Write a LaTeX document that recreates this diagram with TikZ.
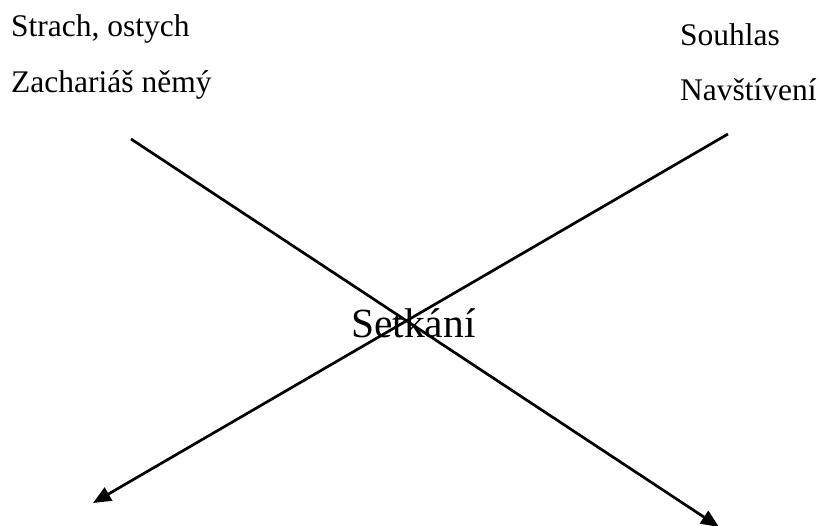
\documentclass[tikz,border=0pt]{standalone}
\usepackage{fontspec}
\setmainfont{Liberation Serif}
\usepackage{tikz}
\usetikzlibrary{arrows.meta}
\pgfdeclarelayer{edgelayer}
\pgfdeclarelayer{nodelayer}
\pgfsetlayers{edgelayer,nodelayer,main}
\tikzstyle{none} = []
\tikzstyle{side word} = [anchor=base west, inner sep=0pt, font=\fontsize{31.5pt}{36pt}\selectfont]
\tikzstyle{middle word} = [anchor=base west, inner sep=0pt, font=\fontsize{41.5pt}{48pt}\selectfont]
\tikzstyle{pointer} = [line width=2.7pt, -{Triangle[length=18pt,width=15pt]}]

\begin{document}
\begin{tikzpicture}[x=1pt, y=-1pt]
	\useasboundingbox (0, 0) rectangle (821, 526);
	\begin{pgfonlayer}{nodelayer}
		\node [style=none] (0) at (131, 139) {};
		\node [style=none] (1) at (719, 527) {};
		\node [style=none] (2) at (728, 134) {};
		\node [style=none] (3) at (93, 503) {};
		\node [style=side word] (4) at (11, 37) {Strach, ostych};
		\node [style=side word] (5) at (11, 93) {Zachariáš němý};
		\node [style=side word] (6) at (680, 46) {Souhlas};
		\node [style=side word] (7) at (680, 101) {Navštívení};
		\node [style=middle word] (8) at (351, 337) {Setkání};
	\end{pgfonlayer}
	\begin{pgfonlayer}{edgelayer}
		\draw [style=pointer] (0.center) to (1.center);
		\draw [style=pointer] (2.center) to (3.center);
	\end{pgfonlayer}
\end{tikzpicture}
\end{document}
